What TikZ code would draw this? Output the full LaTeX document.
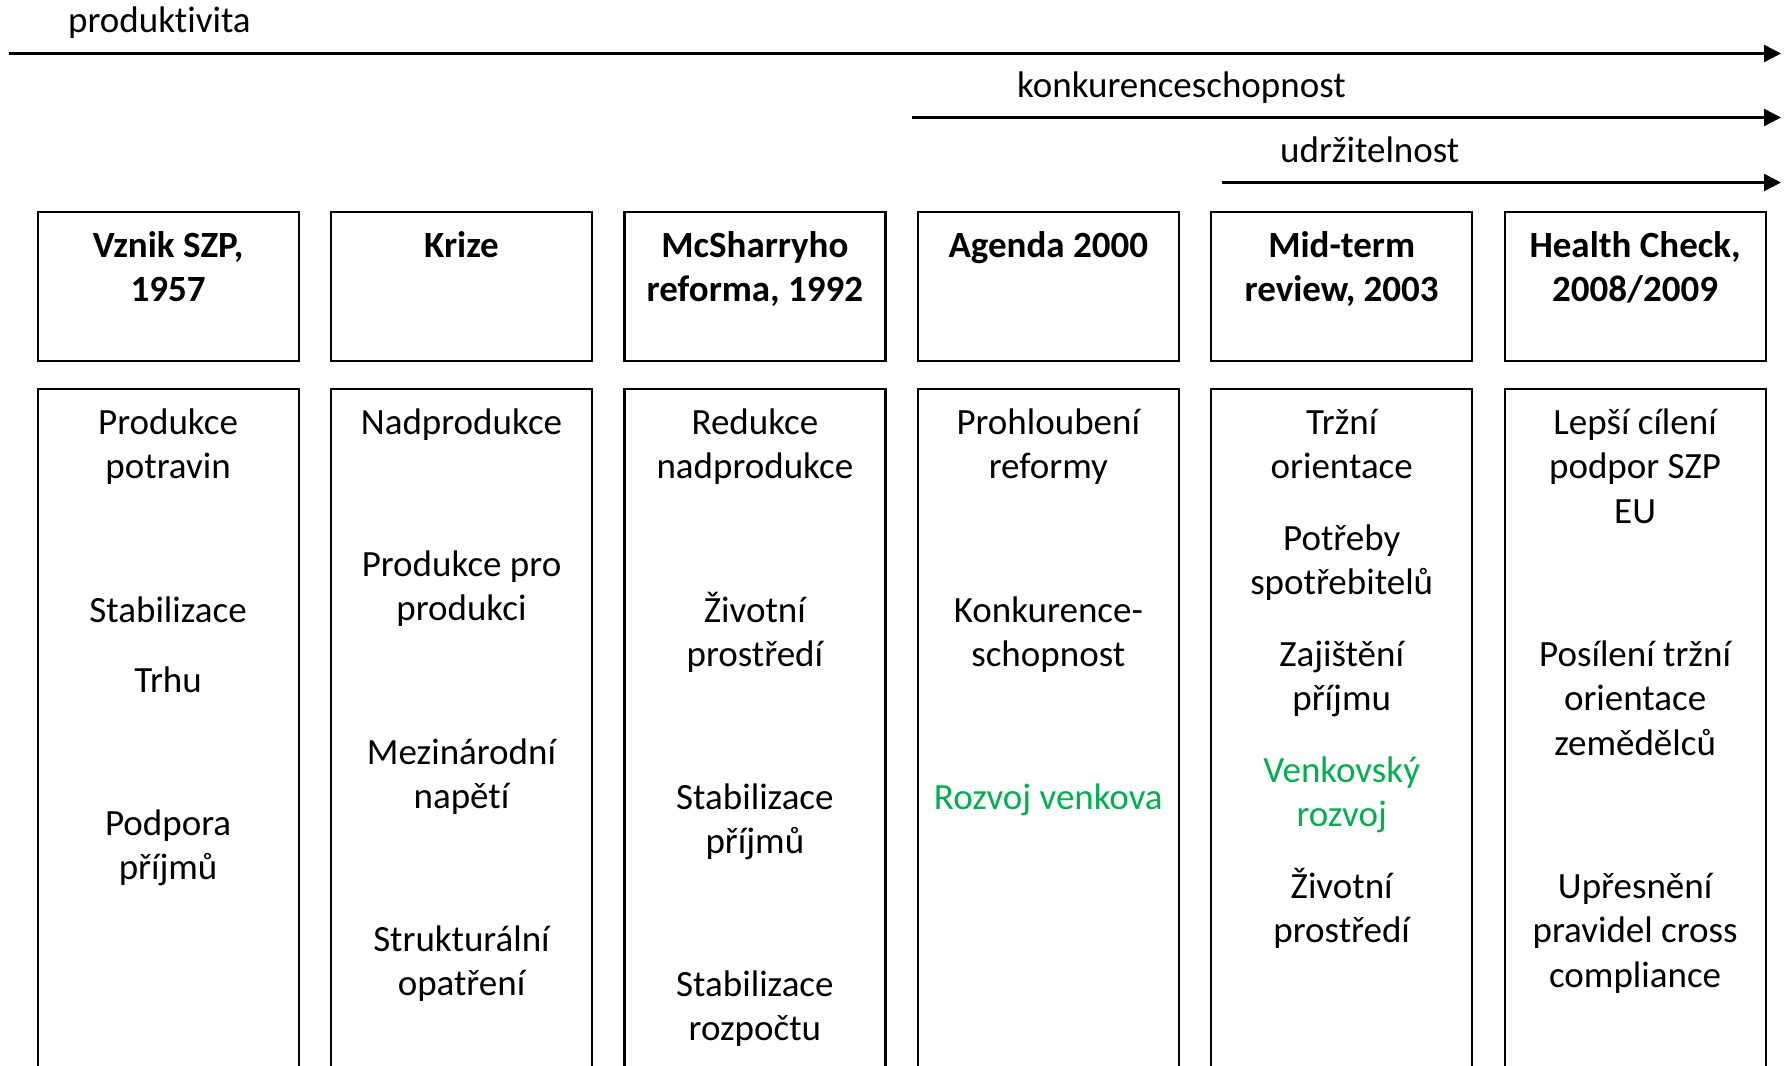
\documentclass[tikz,border=0pt]{standalone}
\usepackage{fontspec}
\setmainfont{Carlito}[Ligatures=NoCommon]
\usetikzlibrary{arrows.meta}
\definecolor{offgreen}{RGB}{0,176,80}
\tikzset{
  arr/.style={line width=2.5pt, -{Triangle[length=17pt,width=17pt]}},
  hbox/.style={draw, line width=2.2pt, minimum width=261pt, minimum height=149pt, inner sep=0pt},
  bbox/.style={draw, line width=2.2pt, minimum width=261pt, minimum height=731pt, inner sep=0pt},
  lbl/.style={font=\fontsize{37pt}{44.5pt}\selectfont, inner sep=0pt, anchor=base west},
  bodytxt/.style={font=\fontsize{37pt}{44.5pt}\selectfont, inner sep=0pt, anchor=base},
  headtxt/.style={bodytxt, font=\fontsize{37pt}{44.5pt}\selectfont\bfseries},
  greentxt/.style={text=offgreen}
}
\newcommand\txtlines[5][]{%
  \foreach \t [count=\i from 0] in {#5} {\node[bodytxt,#1] (#2-\i) at (#3, #4+\i*44.5) {\t};}%
}
\begin{document}
\begin{tikzpicture}[x=1pt,y=-1pt]
\useasboundingbox (0,0) rectangle (1787,1065);
\clip (0,0) rectangle (1787,1065);
% arrows
\coordinate (a1s) at (9,53.5);    \coordinate (a1e) at (1781,53.5);
\coordinate (a2s) at (912,117.5); \coordinate (a2e) at (1781,117.5);
\coordinate (a3s) at (1222,182.5);\coordinate (a3e) at (1781,182.5);
\draw[arr] (a1s) -- (a1e);
\draw[arr] (a2s) -- (a2e);
\draw[arr] (a3s) -- (a3e);
\node[lbl] (l1) at (68,33) {produktivita};
\node[lbl] (l2) at (1017,97) {konkurenceschopnost};
\node[lbl] (l3) at (1280,162) {udržitelnost};
% boxes
\foreach \k in {1,...,6} {
  \node[hbox] (h\k) at ({168.1+293.4*(\k-1)}, 286.6) {};
  \node[bbox] (b\k) at ({168.1+293.4*(\k-1)}, 754.1) {};
}
% headers
\txtlines[headtxt]{t1}{168.1}{257}{{Vznik SZP,},1957}
\txtlines[headtxt]{t2}{461.5}{257}{Krize}
\txtlines[headtxt]{t3}{754.9}{257}{McSharryho,{reforma, 1992}}
\txtlines[headtxt]{t4}{1048.3}{257}{Agenda 2000}
\txtlines[headtxt]{t5}{1341.7}{257}{Mid-term,{review, 2003}}
\txtlines[headtxt]{t6}{1635.1}{257}{{Health Check,},2008/2009}
% column 1
\txtlines{c1a}{168.1}{434}{Produkce,potravin}
\txtlines{c1b}{168.1}{622}{Stabilizace}
\txtlines{c1c}{168.1}{692}{Trhu}
\txtlines{c1d}{168.1}{835}{Podpora,příjmů}
% column 2
\txtlines{c2a}{461.5}{434}{Nadprodukce}
\txtlines{c2b}{461.5}{576}{Produkce pro,produkci}
\txtlines{c2c}{461.5}{764}{Mezinárodní,napětí}
\txtlines{c2d}{461.5}{951}{Strukturální,opatření}
% column 3
\txtlines{c3a}{754.9}{434}{Redukce,nadprodukce}
\txtlines{c3b}{754.9}{622}{Životní,prostředí}
\txtlines{c3c}{754.9}{809}{Stabilizace,příjmů}
\txtlines{c3d}{754.9}{996}{Stabilizace,rozpočtu}
% column 4
\txtlines{c4a}{1048.3}{434}{Prohloubení,reformy}
\txtlines{c4b}{1048.3}{622}{Konkurence-,schopnost}
\txtlines[greentxt]{c4c}{1048.3}{809}{Rozvoj venkova}
% column 5
\txtlines{c5a}{1341.7}{434}{Tržní,orientace}
\txtlines{c5b}{1341.7}{550}{Potřeby,spotřebitelů}
\txtlines{c5c}{1341.7}{666}{Zajištění,příjmu}
\txtlines[greentxt]{c5d}{1341.7}{782}{Venkovský,rozvoj}
\txtlines{c5e}{1341.7}{898}{Životní,prostředí}
% column 6
\txtlines{c6a}{1635.1}{434}{Lepší cílení,podpor SZP,EU}
\txtlines{c6b}{1635.1}{666}{Posílení tržní,orientace,zemědělců}
\txtlines{c6c}{1635.1}{898}{Upřesnění,pravidel cross,compliance}
\end{tikzpicture}
\end{document}
